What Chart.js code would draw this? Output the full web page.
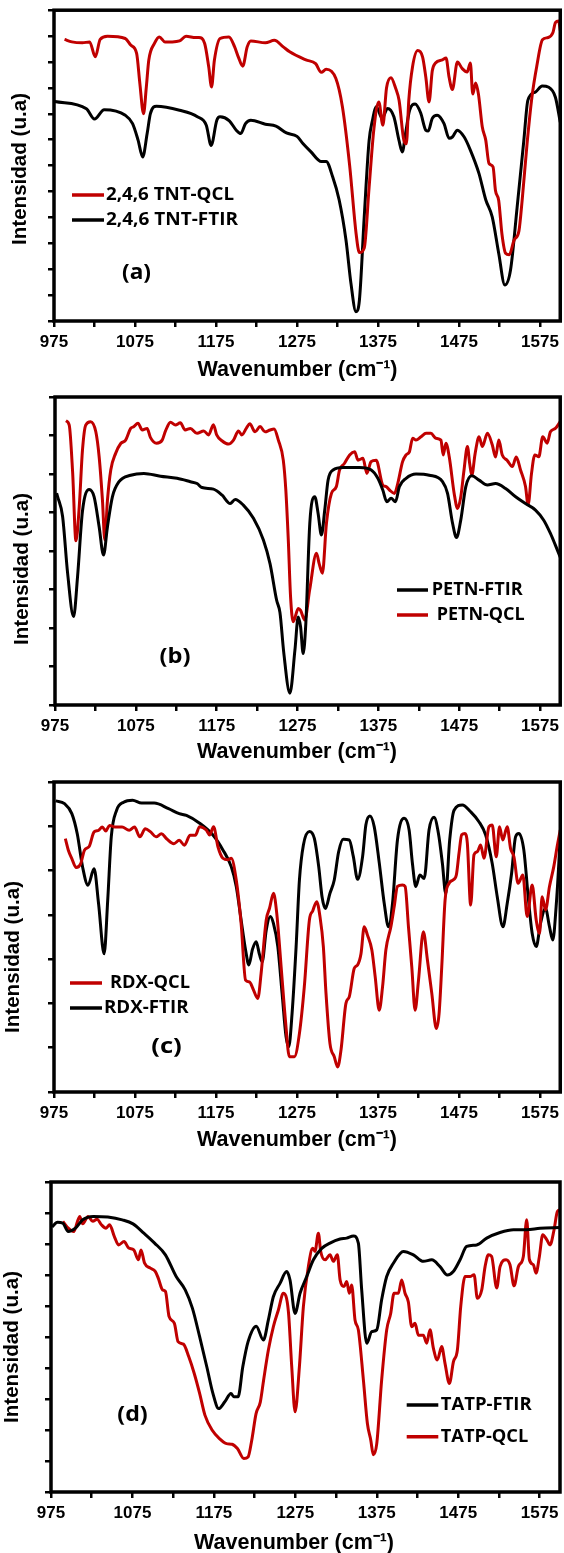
<!DOCTYPE html>
<html>
<head>
<meta charset="utf-8">
<script src="https://cdn.jsdelivr.net/npm/chart.js@4.4.0/dist/chart.umd.min.js"></script>
<style>
  html, body { margin: 0; padding: 0; background: #fff; }
  body { width: 564px; height: 1553px; position: relative; overflow: hidden; }
  canvas { position: absolute; left: 0; }
</style>
</head>
<body>
<canvas id="ca" width="564" height="385" style="top:0px"></canvas>
<canvas id="cb" width="564" height="384" style="top:385px"></canvas>
<canvas id="cc" width="564" height="387" style="top:769px"></canvas>
<canvas id="cd" width="564" height="397" style="top:1156px"></canvas>
<script>
// x axis: wavenumber ticks every 50, labels every 100
const xTickValues = [975, 1025, 1075, 1125, 1175, 1225, 1275, 1325, 1375, 1425, 1475, 1525, 1575];
const xTickLabels = ['975', '', '1075', '', '1175', '', '1275', '', '1375', '', '1475', '', '1575'];

// series: [wavenumber, intensity (arbitrary units)]
const tntQcl = [[988,90.6],[997,89.8],[1010,89.5],[1019,89.8],[1026,85.0],[1032,90.6],[1041,91.6],[1063,90.9],[1070,88.7],[1077,86.1],[1081,76.4],[1085.5,66.7],[1089,75.3],[1092,83.9],[1099,89.3],[1105,91.4],[1112,89.8],[1121,89.8],[1130,90.1],[1138,91.6],[1150,91.2],[1154,91.2],[1161,89.3],[1166,81.8],[1169.5,75.3],[1173,83.9],[1180,90.9],[1191,91.4],[1198,88.2],[1202.5,85.0],[1208,82.0],[1213.5,88.2],[1218,90.1],[1236,89.5],[1247,90.3],[1258,88.2],[1266,86.6],[1286,84],[1298,82.8],[1305,80],[1311,81],[1323,78],[1331,69],[1340,50],[1348,28],[1352,22],[1358,23.5],[1364,43],[1370,62],[1376,70.5],[1381,63],[1385.5,75],[1391,78.3],[1397,74.7],[1401,71],[1407,58],[1410,57],[1413,71],[1417.5,81.6],[1424,87],[1430,85],[1434,78.5],[1438,70.5],[1442,80.5],[1446,83],[1454.5,84],[1459,84.6],[1462.7,78.5],[1466.8,74.5],[1473,83.3],[1479,81.2],[1485,80.1],[1489,83],[1492,73],[1495.5,76.6],[1499,73],[1503.7,62.5],[1508,58.2],[1512,50.7],[1517,49.6],[1520,42],[1524,38.8],[1528,28],[1532.5,21.8],[1537,21.3],[1543,26],[1549,29],[1553,39],[1559,57],[1565,72],[1571,82],[1578,90.5],[1585,91.2],[1591,92.8],[1594,96],[1598,96.5],[1600,93.5]];
const tntFtir = [[976,70.6],[1015,68.3],[1025,65],[1037,68],[1063,66.2],[1072,63.5],[1078.8,58.2],[1084.5,52.8],[1090,60.3],[1094,66.7],[1101.5,69.1],[1130,67.8],[1152,65.7],[1163,63],[1169,56.5],[1176,64.6],[1180,65.7],[1191.5,64.4],[1200,61.4],[1205.6,60.3],[1211.4,63.5],[1218,64.6],[1236,63.3],[1249,62.7],[1262,60.5],[1275,59.4],[1282,57.2],[1292,54.5],[1305,51.3],[1311,51.3],[1319,46.4],[1327,39],[1335.5,26],[1341.6,12.1],[1347.8,3],[1352,6.6],[1358,33.5],[1364,58],[1368,64.4],[1373,68.9],[1380,65.2],[1386.8,68.4],[1394.6,65.7],[1401,58],[1405,54.4],[1409,60.3],[1414,67.8],[1420.8,69.8],[1427.6,67],[1434,61.4],[1437,61.1],[1442,65.2],[1448,66.2],[1456.5,63.5],[1462.7,58.8],[1466.8,59.2],[1473,61.4],[1481.4,59.2],[1489,55],[1499.6,47.5],[1508,39],[1516,33.5],[1524,21.8],[1531.6,11.6],[1538.6,16.4],[1546.8,36.7],[1555,58],[1560,71],[1569.5,73.7],[1577.6,75.6],[1585.8,75.2],[1594,72],[1600,64]];

const petnFtir = [[977,68.8],[978.3,67.6],[984.4,61.2],[990.6,42.8],[998,28.7],[1002.9,41.7],[1009,63],[1017.3,70],[1023.4,67.6],[1029.6,57.9],[1035,48.7],[1039.9,57.9],[1046,67.6],[1054.2,72.5],[1068.6,74.6],[1085,75.2],[1105.5,74.3],[1126,73.6],[1142.5,72.5],[1150.7,71.9],[1156.8,70.6],[1171,70.1],[1181.5,68.2],[1191.7,65.4],[1197.9,66.7],[1208,64.9],[1220.5,60.6],[1232.8,53.6],[1241,45.9],[1249.2,34],[1253.3,30],[1258,17],[1265.6,3.8],[1271.8,17.8],[1275.9,28.6],[1278.8,25.4],[1282,16.7],[1285.3,26.5],[1290.2,59],[1296.4,67.6],[1300.5,62.2],[1304.6,55.2],[1308.7,63.3],[1312.8,73],[1319,76.3],[1331.3,77.1],[1351.8,77.1],[1366.2,76.3],[1374.4,73.6],[1380.5,69.8],[1385.5,66],[1390.8,67.1],[1396.2,66],[1401,70.9],[1409.3,73.6],[1421.6,75],[1438,74.6],[1454.4,72.5],[1460.6,68.7],[1466.8,59],[1471.7,54.4],[1477,60.1],[1483.2,70.9],[1490.6,74.4],[1499.6,73],[1509.9,71.4],[1520,71.9],[1532.4,70.3],[1544.8,67.6],[1557,65.4],[1569.4,63.3],[1579.6,60],[1587.9,55.7],[1594,51.9],[1600,48]];
const petnQcl = [[988.5,92.3],[992.6,90.9],[996.8,75.6],[1000.9,53.3],[1005,64.4],[1009,82.8],[1013,90.9],[1019,92],[1025.5,88.7],[1029.6,80.6],[1033.7,66.5],[1036.6,53.6],[1039.9,66.5],[1044,76.3],[1050,81.7],[1056.3,84.9],[1062.4,86],[1068.6,89.8],[1072.7,90.4],[1077.6,91.5],[1083,89.3],[1089,89.8],[1093,86.9],[1100.6,85],[1107.6,86],[1111.7,89],[1117.9,91.8],[1124,90.9],[1130,91.6],[1136,89.3],[1142.5,89.8],[1150.7,88.2],[1159,89],[1165,87.7],[1171,91],[1175,87.7],[1181.5,85.8],[1189.7,84.7],[1195.8,86],[1202,89],[1206,87.7],[1212,90],[1216,91.3],[1222.5,88.7],[1228.7,90.4],[1234.8,88.7],[1241,89.3],[1246,89.6],[1251.3,86],[1257.4,79.5],[1260.5,70],[1263.6,53.6],[1266.4,35.2],[1269.7,27],[1275.9,31.3],[1278.8,30.7],[1284,27.6],[1290,37.3],[1298.5,49.3],[1301.7,46],[1305.8,42.8],[1310.8,59],[1317,68.7],[1323,70.9],[1327,76.3],[1333,78.4],[1339.5,81.2],[1345.7,82.2],[1349.8,79.5],[1356,80.1],[1360.8,75.2],[1366,79],[1372.3,79.5],[1380.5,71.4],[1384.7,70.9],[1388.8,69.8],[1395,68.7],[1399,71.9],[1405,79],[1409.3,81.2],[1413.4,82.2],[1417.5,86.6],[1421.6,86],[1427.8,87.1],[1434,88.2],[1440,88.2],[1446.2,86.6],[1452.4,86],[1455.3,81.2],[1458.6,85],[1462.7,80.6],[1468.8,68.7],[1473,63.8],[1477,67.6],[1481,76.3],[1485.2,83.9],[1488,78.4],[1490.6,74.6],[1494.7,81.6],[1499.6,87.1],[1503.7,83.9],[1509.9,88.2],[1516,84.4],[1520,80.5],[1524,86],[1528.3,81.2],[1534.5,79.4],[1540.7,77.4],[1545.6,80.5],[1550.9,76.3],[1557,71],[1560.3,65],[1564.5,75.2],[1568.6,81.2],[1573.5,80.6],[1578.4,87.1],[1583.8,85],[1587.9,88.7],[1594,89.8],[1600,92]];

const rdxQcl = [[989,81.7],[992.7,78],[997,75.3],[1002.4,72.4],[1008,73.7],[1012.6,78],[1018.4,79.2],[1024.5,83.9],[1030,84.4],[1034.6,85.5],[1039,84.2],[1043.5,86],[1050,85.5],[1059,85.5],[1067.8,84.4],[1074.4,85.5],[1081,82.3],[1087.7,84.9],[1094.3,83.9],[1101,82.3],[1107.6,83.3],[1114,81.7],[1123,80.1],[1129.6,81.2],[1136,79.6],[1143,82.8],[1149.5,82.8],[1154.8,85.6],[1163,84.5],[1167.1,82.9],[1172,85.6],[1177.4,79.1],[1183.5,75.4],[1189.7,74.9],[1193.8,75.4],[1200,68.4],[1206,54.4],[1211.5,36.1],[1216.4,35.5],[1220.5,33.4],[1226.6,30.2],[1230.7,38.3],[1237,55.5],[1241,59.2],[1246,64.1],[1250,57.6],[1255.4,40.4],[1260.7,23.2],[1265.6,11.4],[1271.8,11.4],[1278,18.9],[1284,33.9],[1290.3,55.5],[1294.4,58.4],[1299.3,61.4],[1303.4,56.5],[1307.5,47],[1310.8,31.8],[1315.7,15.6],[1321,11.4],[1325.2,8.1],[1329.3,13.5],[1335.4,28.6],[1339.5,30.7],[1345.7,39.9],[1349.8,41],[1354,44.6],[1358,53.3],[1362,50.6],[1367.4,45.8],[1371.5,37.2],[1376.5,26.4],[1380.6,33.9],[1384.7,45.8],[1390.9,53.3],[1395,59.8],[1399,66.3],[1405.2,66.8],[1408.5,66.3],[1412.6,53.3],[1416.7,40.4],[1420.8,26.4],[1425,36.1],[1431,51.7],[1436,42.6],[1441.4,31.8],[1447,20.5],[1450.4,25.3],[1453.7,40.4],[1457.8,61.9],[1462.7,67.3],[1467.6,68.4],[1471.7,70],[1475,77],[1478.3,83],[1482.4,83.4],[1485.3,80.2],[1489.4,60.3],[1493.5,76.5],[1497.6,77.5],[1501.7,79.7],[1505.8,75.4],[1512,85.6],[1516,86.1],[1521,75.9],[1525,85.6],[1529,81.3],[1534.5,85.6],[1538.6,78.6],[1542.8,75.9],[1548,67.3],[1553.8,70],[1559.2,56.6],[1565.3,66.8],[1570.3,55.5],[1574.4,51.2],[1577.6,63],[1581.8,58.7],[1586.7,66.3],[1592,72.7],[1596.1,79.1],[1600,84.5]];
const rdxFtir = [[977,93.9],[988,93],[997,89.8],[1003.7,83.3],[1010.3,72.6],[1017,66.7],[1024.5,72],[1030,60.8],[1036.9,44.6],[1041.3,61.8],[1045.7,82.3],[1052.3,90.9],[1061,93.5],[1072,94.1],[1083,93.2],[1098.7,93.2],[1116.4,91.4],[1129.6,89.8],[1138.5,89.2],[1154.8,86.7],[1171.2,82.9],[1183.5,78.1],[1193.8,72.7],[1200,66.3],[1206,55.5],[1211.5,45.8],[1215.6,41],[1220,46],[1224.6,48.5],[1228.7,44.3],[1232,42],[1237,52.2],[1242,56.6],[1245.9,54.4],[1251.3,46.9],[1256.6,31.8],[1261.5,17.8],[1264.8,14.6],[1268.9,25.3],[1273.9,46.9],[1278,68.4],[1282.9,79.7],[1290.3,84],[1296.4,81.8],[1301.8,72.7],[1305.9,63],[1310,59.2],[1315.7,64.1],[1321,68.4],[1326.4,77.5],[1332.1,81.5],[1339.5,81.3],[1344.5,76],[1349.8,68.6],[1356,76],[1360,86.1],[1365,89],[1370.3,85.6],[1376.5,74],[1382.7,60.8],[1388,53.3],[1392.9,60.8],[1399,81.3],[1407.3,88.3],[1413.4,84.5],[1417.5,73.7],[1421.7,66.3],[1426.6,70],[1432,68.9],[1438,84.5],[1444.2,88.6],[1449.6,83.4],[1454.5,73.7],[1458.6,64],[1463.5,81.3],[1468.9,90.9],[1479.1,92.6],[1489.4,90.4],[1499.6,87.2],[1507.9,82.9],[1516,73.7],[1522.2,63],[1529.2,53.3],[1534.5,60.8],[1539.9,70.5],[1544.8,82.3],[1548.9,83.4],[1555,78.1],[1560.4,63],[1565.3,51.2],[1570.3,46.9],[1575.6,54.4],[1581.8,59.2],[1586.7,53.3],[1590.8,49],[1594.9,59.8],[1598.2,73.7],[1600,83.4]];

const tatpFtir = [[976.3,85.5],[983,87],[989.6,86.7],[996.2,84],[1005,85.1],[1013.9,87.8],[1027,88.9],[1044.8,88.7],[1062.5,87.8],[1075.7,86.5],[1089,83.5],[1102.2,80.3],[1115.5,76.5],[1128.7,69.5],[1139.8,65.2],[1148.6,59.3],[1157.5,50.1],[1166.3,40.4],[1173.8,31.8],[1180.9,26.9],[1188.4,29.1],[1196,31.8],[1199.5,30.7],[1204.7,30.7],[1210.5,40.4],[1217,48.5],[1227,53.5],[1235.8,49],[1241.9,55.5],[1248,63],[1256.2,67.3],[1264.4,71.1],[1268.5,68.4],[1274.7,57.6],[1280.8,64.1],[1289,69.5],[1297.2,74.9],[1307.4,78.6],[1317.6,80.3],[1329.9,81.6],[1338,81.9],[1346.3,82.6],[1352.4,80.3],[1356.5,65.2],[1362.7,48],[1368.8,51.7],[1375,52.3],[1381,62],[1387.2,69.5],[1395.4,73.8],[1407.7,77.6],[1420,76.5],[1432.2,74.4],[1442.5,74.9],[1452.7,72.7],[1461.7,70],[1469,71.1],[1477.3,74.9],[1485.4,79.2],[1497.7,79.7],[1510,81.9],[1526.4,83.7],[1542.8,84.6],[1559,84.6],[1575.5,85.1],[1600,85.3]];
const tatpQcl = [[989.6,87.3],[996.2,85.1],[1002.8,84],[1010.3,88.9],[1013.9,86.5],[1020.5,88.9],[1026.3,87.3],[1031.6,88],[1036.9,86.2],[1042.6,85.1],[1047,86.2],[1052.8,82.4],[1058,79.7],[1064.7,80.8],[1070.4,78.7],[1076.6,78.1],[1082.4,74.9],[1085.5,78.1],[1089.9,73.8],[1097,72.2],[1103.2,71.1],[1106.7,69],[1112,65.2],[1115.5,64.7],[1120,56.6],[1126.5,54.4],[1131,48.5],[1137.6,47.7],[1144.2,43.6],[1150.8,38.3],[1157.5,31.8],[1164,24.8],[1173,19.9],[1181.8,17.2],[1190.6,15.6],[1197.2,15.4],[1203.9,14],[1211.8,10.8],[1217,11.3],[1221.5,16.7],[1226.8,25.3],[1232,29],[1236,36],[1241.9,45.8],[1248,53.3],[1254.2,58.7],[1260.3,64.1],[1266.5,58.2],[1270.6,40.4],[1274.7,25.9],[1280,40.4],[1284.9,59.8],[1291,72.7],[1296.3,78.6],[1299.2,77.6],[1303.3,83.5],[1306.2,77.6],[1311.5,74.9],[1317.6,76.5],[1321.7,74.4],[1326.6,76.5],[1330,68.4],[1334.8,66.3],[1338.1,67.9],[1341.4,64.1],[1344.2,66.8],[1348.3,55.5],[1352.4,52.3],[1358.6,36.1],[1363.5,22.1],[1367.6,16.8],[1370.8,12],[1375,15.6],[1381,36.1],[1387.2,52.3],[1392.1,57.6],[1396.2,64.1],[1401.5,64.1],[1405.6,68.4],[1409.7,64.1],[1413.8,61.3],[1417.9,53.3],[1422,54.4],[1426.1,50.6],[1432.2,50.6],[1436.3,48],[1440.4,52.3],[1444.5,46.4],[1449.4,42.6],[1454.7,46.9],[1458.8,41.5],[1464.2,35],[1469.1,42],[1474,45.8],[1478.1,59.8],[1483.4,69.5],[1489.5,69.5],[1494.5,70.1],[1498.5,62.5],[1503.9,65.2],[1508,72.7],[1512,76.5],[1516,76],[1522.3,65.8],[1526.4,72.7],[1533.8,74.9],[1538.6,73.3],[1543.6,66.5],[1548.9,72.7],[1555,76],[1559.1,87.8],[1562.4,75],[1567.3,73.3],[1570.6,70.6],[1574.7,76],[1578.8,83],[1583.7,81.4],[1587.8,79.7],[1592.7,84.6],[1596.8,90.5],[1600,91]];

const RED = 'rgb(192,0,0)';
const BLACK = '#000000';
const AXIS_FONT = '"Liberation Sans", Arial, sans-serif';
const LEGEND_FONT = '"Open Sans", "Noto Sans", sans-serif';

// layout of each panel (canvas coordinates)
const panels = [
  { id: 'ca', padTop: 10, padRight: 2, yWidth: 54, xHeight: 64, yIntervals: 12,
    series: [{ label: '2,4,6 TNT-QCL', data: tntQcl, color: RED }, { label: '2,4,6 TNT-FTIR', data: tntFtir, color: BLACK }],
    legend: [{ x0: 72, x1: 104, y: 195, tx: 106, w: 128 }, { x0: 72, x1: 104, y: 220, tx: 106, w: 132 }],
    tag: { text: '(a)', x: 136.5, y: 273, w: 29 }, yTitle: { x: 20, y: 169 }, xTitle: { x: 297.5, y: 370 } },
  { id: 'cb', padTop: 12, padRight: 2, yWidth: 55, xHeight: 64, yIntervals: 8,
    series: [{ label: 'PETN-FTIR', data: petnFtir, color: BLACK }, { label: 'PETN-QCL', data: petnQcl, color: RED }],
    legend: [{ x0: 397, x1: 428, y: 205, tx: 431.7, w: 91 }, { x0: 397, x1: 428, y: 230, tx: 436.7, w: 88 }],
    tag: { text: '(b)', x: 175, y: 271.7, w: 31 }, yTitle: { x: 22, y: 184 }, xTitle: { x: 297, y: 367 } },
  { id: 'cc', padTop: 13, padRight: 2, yWidth: 54, xHeight: 64, yIntervals: 7,
    series: [{ label: 'RDX-QCL', data: rdxQcl, color: RED }, { label: 'RDX-FTIR', data: rdxFtir, color: BLACK }],
    legend: [{ x0: 70, x1: 102, y: 214, tx: 110, w: 80 }, { x0: 70, x1: 102, y: 239, tx: 104, w: 84.5 }],
    tag: { text: '(c)', x: 166.5, y: 278, w: 30.6 }, yTitle: { x: 13, y: 188 }, xTitle: { x: 297, y: 371 } },
  { id: 'cd', padTop: 26, padRight: 4, yWidth: 51, xHeight: 61, yIntervals: 10,
    series: [{ label: 'TATP-FTIR', data: tatpFtir, color: BLACK }, { label: 'TATP-QCL', data: tatpQcl, color: RED }],
    legend: [{ x0: 406.7, x1: 438.3, y: 249, tx: 440.7, w: 91 }, { x0: 406.7, x1: 438.3, y: 280.7, tx: 440.7, w: 87.6 }],
    tag: { text: '(d)', x: 132.5, y: 259, w: 30.5 }, yTitle: { x: 12.6, y: 191 }, xTitle: { x: 294, y: 387 } }
];

// draw text squeezed/stretched to a given width
function fitText(ctx, text, x, y, w, font, align, rot) {
  ctx.save();
  ctx.font = font;
  const m = ctx.measureText(text).width;
  ctx.translate(x, y);
  if (rot) ctx.rotate(rot);
  ctx.scale(w / m, 1);
  ctx.textAlign = align;
  ctx.textBaseline = 'middle';
  ctx.fillStyle = '#000';
  ctx.fillText(text, 0, 0);
  ctx.restore();
}

const overlay = {
  id: 'overlay',
  afterDraw(chart, args, o) {
    const { ctx, chartArea: a } = chart;
    ctx.save();
    ctx.strokeStyle = '#000';
    ctx.lineWidth = 3.5;
    ctx.strokeRect(a.left, a.top, a.right - a.left, a.bottom - a.top);
    o.legend.forEach((it, i) => {
      const ds = chart.data.datasets[i];
      ctx.strokeStyle = ds.borderColor;
      ctx.lineWidth = 3.5;
      ctx.beginPath();
      ctx.moveTo(it.x0, it.y);
      ctx.lineTo(it.x1, it.y);
      ctx.stroke();
      fitText(ctx, ds.label, it.tx, it.y, it.w, 'bold 17px ' + LEGEND_FONT, 'left');
    });
    fitText(ctx, o.tag.text, o.tag.x, o.tag.y, o.tag.w, 'bold 21px ' + LEGEND_FONT, 'center');
    fitText(ctx, 'Intensidad (u.a)', o.yTitle.x, o.yTitle.y, 152, 'bold 20.5px ' + AXIS_FONT, 'center', -Math.PI / 2);
    fitText(ctx, 'Wavenumber (cm\u207B\u00B9)', o.xTitle.x, o.xTitle.y, 200, 'bold 22px ' + AXIS_FONT, 'center');
    ctx.restore();
  }
};

panels.forEach(p => {
  const ctx = document.getElementById(p.id).getContext('2d');
  new Chart(ctx, {
    type: 'line',
    data: {
      datasets: p.series.map(s => ({
        label: s.label,
        data: s.data.map(d => ({ x: d[0], y: d[1] })),
        borderColor: s.color,
        borderWidth: 3,
        pointRadius: 0,
        fill: false,
        tension: 0.4,
        cubicInterpolationMode: 'monotone'
      }))
    },
    options: {
      responsive: false,
      animation: false,
      devicePixelRatio: 1,
      layout: { padding: { top: p.padTop, right: p.padRight, left: 0, bottom: 0 } },
      plugins: {
        legend: { display: false },
        tooltip: { enabled: false },
        overlay: { legend: p.legend, tag: p.tag, yTitle: p.yTitle, xTitle: p.xTitle }
      },
      scales: {
        x: {
          type: 'linear',
          min: 975,
          max: 1600,
          afterBuildTicks: s => { s.ticks = xTickValues.map(v => ({ value: v })); },
          afterFit: s => { s.height = p.xHeight; },
          ticks: {
            autoSkip: false,
            maxRotation: 0,
            padding: 5,
            color: '#000',
            font: { family: AXIS_FONT, size: 17, weight: 'bold' },
            callback: (v) => xTickLabels[xTickValues.indexOf(v)]
          },
          grid: { drawOnChartArea: false, drawTicks: true, tickLength: 6, color: '#000', lineWidth: 2.5 },
          border: { display: false }
        },
        y: {
          min: 0,
          max: 100,
          afterBuildTicks: s => {
            s.ticks = Array.from({ length: p.yIntervals + 1 }, (_, i) => ({ value: i * 100 / p.yIntervals }));
          },
          afterFit: s => { s.width = p.yWidth; },
          ticks: { callback: () => '' },
          grid: { drawOnChartArea: false, drawTicks: true, tickLength: 6, color: '#000', lineWidth: 2.5 },
          border: { display: false }
        }
      }
    },
    plugins: [overlay]
  });
});
</script>
</body>
</html>
